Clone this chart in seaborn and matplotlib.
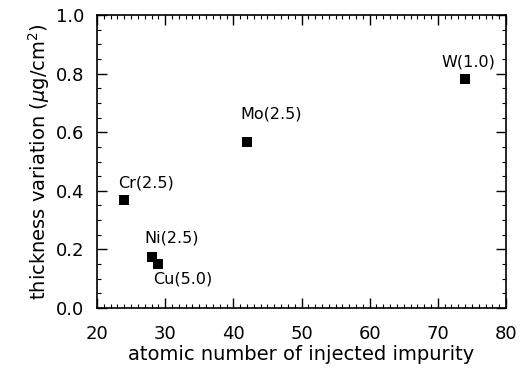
import matplotlib
matplotlib.use("Agg")
import matplotlib.pyplot as plt
import seaborn as sns
import pandas as pd
from matplotlib.ticker import MultipleLocator

elements = ["Cr", "Ni", "Cu", "Mo", "W"]
atomic_number = [24, 28, 29, 42, 74]
thickness_var = [0.37, 0.175, 0.15, 0.565, 0.78]
labels = ["Cr(2.5)", "Ni(2.5)", "Cu(5.0)", "Mo(2.5)", "W(1.0)"]
# label anchor offsets (data units) relative to point
label_dx = [-0.9, -1.0, -0.8, -1.0, -3.4]
label_dy = [0.03, 0.04, -0.075, 0.07, 0.035]

sns.set_theme(style="ticks")
plt.rcParams['font.family'] = ['DejaVu Sans']
plt.rcParams['text.color'] = 'black'
plt.rcParams['axes.labelcolor'] = 'black'

df = pd.DataFrame({"Z": atomic_number, "t": thickness_var, "el": elements})

fig = plt.figure(figsize=(5.28, 3.73), dpi=100)
ax = fig.add_axes([97/528, 1-308/373, (506-97)/528, (308-15)/373])

sns.scatterplot(data=df, x="Z", y="t", marker="s", s=60, color="black",
                edgecolor="black", linewidth=0, ax=ax, legend=False)

for x, y, lab, dx, dy in zip(atomic_number, thickness_var, labels, label_dx, label_dy):
    ax.text(x + dx, y + dy, lab, fontsize=11.5, ha="left", va="bottom", color="black")

ax.set_xlim(20, 80)
ax.set_ylim(0.0, 1.0)
ax.xaxis.set_major_locator(MultipleLocator(10))
ax.xaxis.set_minor_locator(MultipleLocator(1))
ax.yaxis.set_major_locator(MultipleLocator(0.2))
ax.yaxis.set_minor_locator(MultipleLocator(0.05))
ax.yaxis.set_major_formatter(matplotlib.ticker.FormatStrFormatter("%.1f"))
ax.tick_params(which="both", direction="in", top=True, right=True,
               colors="black", labelcolor="black")
ax.tick_params(which="major", length=7, width=1, labelsize=13, pad=9)
ax.tick_params(axis="x", which="major", pad=12)
ax.tick_params(which="minor", length=3, width=0.8)
for sp in ax.spines.values():
    sp.set_color("black")
    sp.set_linewidth(1.2)

ax.set_xlabel("atomic number of injected impurity", fontsize=14, labelpad=2)
ax.set_ylabel("thickness variation ($\\mu$g/cm$^2$)", fontsize=14, labelpad=3)

fig.savefig("out.png", dpi=100)
